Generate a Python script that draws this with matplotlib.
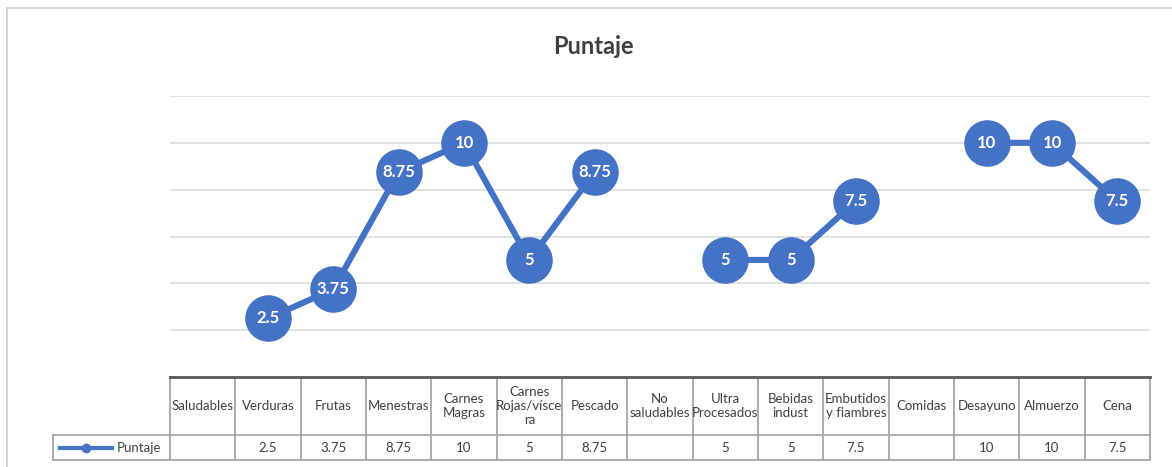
"""
Gráfico de puntaje por grupo de alimentos con tabla de datos (estilo Excel).
"""
import matplotlib.pyplot as plt
import numpy as np
from matplotlib.lines import Line2D
from matplotlib.transforms import blended_transform_factory

plt.rcParams["font.family"] = ["Lato", "DejaVu Sans"]

categorias = ["Saludables", "Verduras", "Frutas", "Menestras", "Carnes\nMagras",
              "Carnes\nRojas/vísce\nra", "Pescado", "No\nsaludables",
              "Ultra\nProcesados", "Bebidas\nindust", "Embutidos\ny fiambres",
              "Comidas", "Desayuno", "Almuerzo", "Cena"]
puntaje = [None, 2.5, 3.75, 8.75, 10, 5, 8.75, None, 5, 5, 7.5, None, 10, 10, 7.5]
serie = "Puntaje"

AZUL = "#4472C4"
BORDE = "#a6a6a6"
W, H = 1172, 467

fig = plt.figure(figsize=(W / 100, H / 100), dpi=100)
fig.patch.set_facecolor("white")

# plot area in pixels: x 170..1150, y(0)=377, y(12)=96
ax = fig.add_axes([170 / W, 1 - 377 / H, 980 / W, (377 - 96) / H])
n = len(categorias)
x = np.arange(n)
y = np.array([np.nan if v is None else v for v in puntaje], dtype=float)

ax.set_xlim(-0.5, n - 0.5)
ax.set_ylim(0, 12)
ax.set_yticks(np.arange(0, 13, 2))
ax.grid(axis="y", color="#d9d9d9", linewidth=1.1)
ax.set_axisbelow(True)
ax.tick_params(left=False, bottom=False, labelleft=False, labelbottom=False)
for s in ax.spines.values():
    s.set_visible(False)

ax.plot(x, y, color=AZUL, linewidth=4.4, marker="o", markersize=32.5,
        markerfacecolor=AZUL, markeredgecolor=AZUL, zorder=3, clip_on=False)
for xi, v in zip(x, puntaje):
    if v is not None:
        ax.text(xi, v, f"{v:g}", ha="center", va="center", color="white",
                fontsize=12, fontweight="bold", zorder=4)

fig.text(593 / W, 1 - 47 / H, "Puntaje", ha="center", va="center",
         fontsize=17, fontweight="bold", color="#404040")

# data table below the plot
tr = blended_transform_factory(ax.transData, ax.transAxes)
px = 281.0
y_top, y_mid, y_bot = 0.0, -58 / px, -83 / px
x_leg = -0.5 - (170 - 53) / (980 / n)
kw = dict(transform=tr, clip_on=False, color=BORDE, linewidth=1.3)
ax.add_line(Line2D([x_leg, n - 0.5], [y_mid, y_mid], **kw))
ax.add_line(Line2D([x_leg, n - 0.5], [y_bot, y_bot], **kw))
ax.add_line(Line2D([x_leg, x_leg], [y_mid, y_bot], **kw))
for i in range(n + 1):
    ax.add_line(Line2D([i - 0.5, i - 0.5], [y_top, y_bot], **kw))
ax.add_line(Line2D([-0.5, n - 0.5], [0, 0], transform=tr, clip_on=False,
                   color="#595959", linewidth=2.0))

for xi, cat, v in zip(x, categorias, puntaje):
    ax.text(xi, (y_top + y_mid) / 2, cat, transform=tr, ha="center",
            va="center", fontsize=9.5, color="#404040", linespacing=1.15)
    if v is not None:
        ax.text(xi, (y_mid + y_bot) / 2, f"{v:g}", transform=tr,
                ha="center", va="center", fontsize=9.5, color="#404040")

# legend key inside the table
yk = (y_mid + y_bot) / 2
ax.add_line(Line2D([x_leg + 0.11, x_leg + 0.9], [yk, yk], transform=tr,
                   clip_on=False, color=AZUL, linewidth=3))
ax.add_line(Line2D([x_leg + 0.5], [yk], transform=tr, clip_on=False,
                   marker="o", markersize=6, color=AZUL))
ax.text(x_leg + 0.98, yk, serie, transform=tr, ha="left", va="center",
        fontsize=9.5, color="#404040")

# chart border
fig.add_artist(Line2D([7 / W, 1], [1 - 8 / H, 1 - 8 / H], color="#d0d0d0",
                      linewidth=1.2))
fig.add_artist(Line2D([7 / W, 7 / W], [0, 1 - 8 / H], color="#d0d0d0",
                      linewidth=1.2))

fig.savefig("out.png", dpi=100, facecolor="white")
